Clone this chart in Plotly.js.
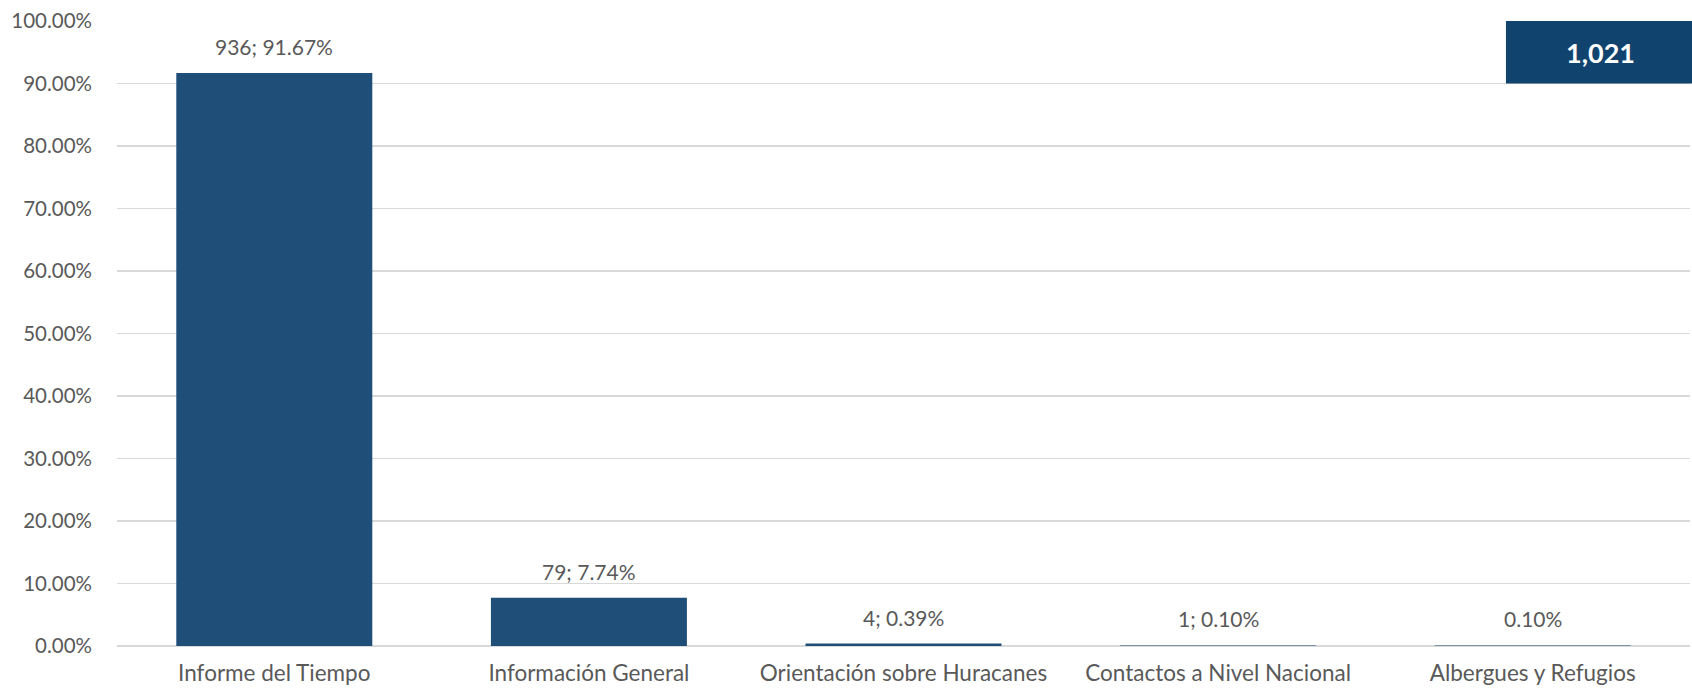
<!DOCTYPE html>
<html>
<head>
<meta charset="utf-8">
<script src="https://cdn.plot.ly/plotly-3.0.1.min.js"></script>
<style>html,body{margin:0;padding:0;background:#fff;}#chart{width:1692px;height:688px;}</style>
</head>
<body>
<div id="chart"></div>
<script>
var categories = ["Informe del Tiempo", "Información General", "Orientación sobre Huracanes", "Contactos a Nivel Nacional", "Albergues y Refugios"];
var counts = [936, 79, 4, 1, 1];
var percents = [91.67, 7.74, 0.39, 0.10, 0.10];
var showCount = [true, true, true, true, false];
var totalLabel = "1,021";
var yTickVals = [0, 10, 20, 30, 40, 50, 60, 70, 80, 90, 100];
var yTickText = yTickVals.map(function(v){ return v.toFixed(2) + "%"; });

var FONT = "Lato, 'Open Sans', sans-serif";
var labels = percents.map(function(p, i){
  var s = p.toFixed(2) + "%";
  return showCount[i] ? (counts[i] + "; " + s) : s;
});

var trace = {
  type: "bar",
  x: categories,
  y: percents,
  marker: {color: "#1f4e79", line: {width: 0}},
  hoverinfo: "skip"
};

var annotations = categories.map(function(c, i){
  return {
    x: c, y: percents[i], xref: "x", yref: "y",
    text: labels[i], showarrow: false,
    yanchor: "bottom", yshift: 12,
    font: {family: FONT, size: 21, color: "#595959"}
  };
});
annotations.push({
  xref: "paper", yref: "paper", x: 0.9428, y: 0.95,
  xanchor: "center", yanchor: "middle",
  text: "<b>" + totalLabel + "</b>", showarrow: false,
  font: {family: FONT, size: 27, color: "#ffffff"}
});

var layout = {
  width: 1692, height: 688,
  margin: {l: 117, r: 2, t: 21, b: 42},
  paper_bgcolor: "#ffffff", plot_bgcolor: "#ffffff",
  showlegend: false,
  bargap: 0.377,
  font: {family: FONT, size: 21, color: "#595959"},
  xaxis: {
    type: "category",
    showgrid: false, showline: false, zeroline: false,
    ticks: "", tickfont: {family: FONT, size: 22.5, color: "#595959"},
    ticklabelstandoff: 11
  },
  yaxis: {
    range: [0, 100], fixedrange: true,
    tickvals: yTickVals, ticktext: yTickText,
    showgrid: true, gridcolor: "#d9d9d9", gridwidth: 1.5,
    zeroline: true, zerolinecolor: "#d9d9d9", zerolinewidth: 1.5,
    showline: false, ticks: "",
    tickfont: {family: FONT, size: 20.5, color: "#595959"},
    ticklabelstandoff: 24
  },
  shapes: [{
    type: "rect", xref: "paper", yref: "paper",
    x0: 0.883, x1: 1.002, y0: 0.9, y1: 1.0,
    fillcolor: "#10436d", line: {width: 0}, layer: "above"
  }],
  annotations: annotations
};

Plotly.newPlot("chart", [trace], layout, {displayModeBar: false, staticPlot: true});
</script>
</body>
</html>
